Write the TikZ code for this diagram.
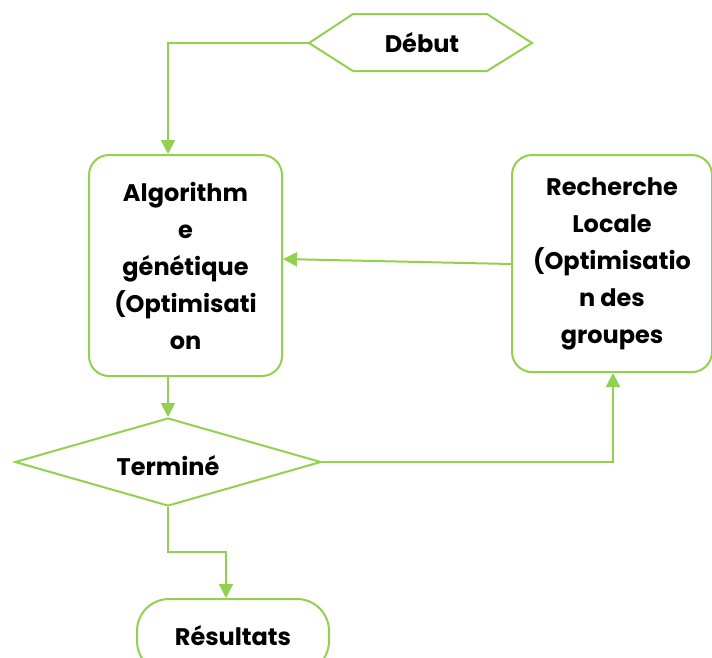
\documentclass[tikz,border=0pt]{standalone}
\usepackage{fontspec}
\setmainfont{Poppins}
\usetikzlibrary{arrows.meta,shapes.geometric}
\definecolor{lgreen}{RGB}{146,208,80}
\tikzset{
  gline/.style={draw=lgreen, line width=2pt},
  garrow/.style={gline, -{Triangle[length=14pt,width=14pt]}},
  txt/.style={font=\bfseries\fontsize{24}{37}\selectfont, align=center, text=black},
  gbox/.style={gline, rectangle, rounded corners=20pt, inner sep=0pt, txt},
}
\begin{document}
\begin{tikzpicture}[x=1pt,y=-1pt]
\useasboundingbox (0,0) rectangle (712,657);
\clip (0,0) rectangle (712,657);
% Debut hexagon
\draw[gline] (309,43) -- (353,14) -- (487,14) -- (532,43) -- (487,71) -- (353,71) -- cycle;
\node[txt] (debut) at (422,43) {Début};
\coordinate (debutL) at (309,43);
% GA box
\node[gbox, minimum width=193pt, minimum height=221pt] (ga) at (185.5,265.5) {Algorithm\\e\\génétique\\(Optimisati\\on};
% Local search box
\node[gbox, minimum width=200pt, minimum height=217pt] (rl) at (612,263.5) {Recherche\\Locale\\(Optimisatio\\n des\\groupes};
% Diamond
\node[gline, diamond, inner sep=0pt, minimum width=306pt, minimum height=88pt, txt] (term) at (168,462) {};
\node[txt] (termtxt) at (168,466) {Terminé};
% Resultats
\node[gline, rectangle, rounded corners=32pt, minimum width=192pt, minimum height=74pt, inner sep=0pt, txt] (res) at (233,636) {};
\node[txt] (restxt) at (233,636) {Résultats};
% connectors
\draw[garrow] (debutL) -- (168,43) -- (ga.north -| 168,0);
\draw[garrow] (rl.west |- 0,264) -- (ga.east |- 0,259);
\draw[garrow] (ga.south -| 168,0) -- (term.north);
\draw[garrow] (term.east) -- (613,462) -- (rl.south -| 613,0);
\draw[garrow] (term.south) -- (168,552) -- (226,552) -- (res.north -| 226,0);
\end{tikzpicture}
\end{document}
